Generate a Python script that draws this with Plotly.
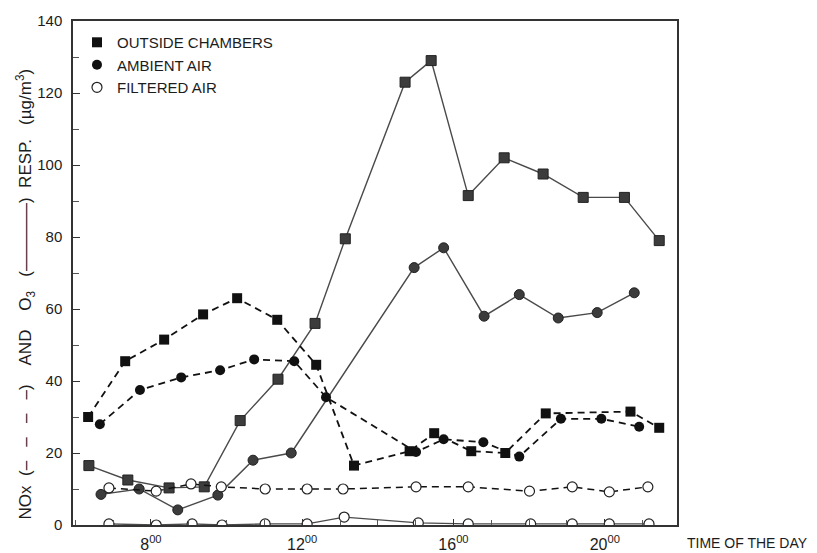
import plotly.graph_objects as go

# ---- data (hour of day, µg/m3) ----
out_nox_h = [6.34, 7.32, 8.35, 9.38, 10.28, 11.34, 12.37, 13.37, 14.84, 15.49, 16.47, 17.37, 18.44, 20.68, 21.44]
out_nox_v = [30, 45.5, 51.5, 58.5, 63, 57, 44.5, 16.5, 20.5, 25.5, 20.5, 20, 31, 31.5, 27]

amb_nox_h = [6.65, 7.71, 8.8, 9.83, 10.73, 11.79, 12.63, 15.01, 15.74, 16.79, 17.74, 18.84, 19.91, 20.91]
amb_nox_v = [28, 37.5, 41, 43, 46, 45.5, 35.5, 20.3, 23.8, 23, 19, 29.5, 29.5, 27.3]

fil_nox_h = [6.89, 8.14, 9.06, 9.86, 11.02, 12.13, 13.08, 15.01, 16.39, 18.01, 19.14, 20.12, 21.14]
fil_nox_v = [10.3, 9.4, 11.4, 10.6, 10, 10, 10, 10.6, 10.6, 9.4, 10.6, 9.2, 10.6]

out_o3_h = [6.36, 7.39, 8.48, 9.41, 10.36, 11.36, 12.34, 13.14, 14.72, 15.41, 16.39, 17.34, 18.37, 19.43, 20.52, 21.44]
out_o3_v = [16.5, 12.5, 10.3, 10.6, 29, 40.5, 56, 79.5, 123, 129, 91.5, 102, 97.5, 91, 91, 79]

amb_o3_h = [6.68, 7.69, 8.71, 9.77, 10.7, 11.71, 14.96, 15.74, 16.81, 17.74, 18.77, 19.8, 20.78]
amb_o3_v = [8.5, 10, 4.2, 8.3, 18, 20, 71.5, 77, 58, 64, 57.5, 59, 64.5]

fil_o3_h = [6.89, 8.14, 9.09, 9.88, 11.02, 12.13, 13.11, 15.07, 16.39, 18.04, 19.14, 20.12, 21.17]
fil_o3_v = [0.3, 0, 0.3, 0, 0.3, 0.3, 2.2, 0.6, 0.3, 0.3, 0.3, 0.3, 0.3]

x_tickvals = [8, 12, 16, 20]
x_ticktext = ["8<sup>00</sup>", "12<sup>00</sup>", "16<sup>00</sup>", "20<sup>00</sup>"]
y_tickvals = [0, 20, 40, 60, 80, 100, 120, 140]
legend_names = ["OUTSIDE CHAMBERS", "AMBIENT AIR", "FILTERED AIR"]

FONT = "Liberation Sans"
INK = "#1c1c1c"
GREY = "#4a4a4a"
NB = "\u00a0"

fig = go.Figure()

sq_dark = dict(symbol="square", size=10, color="#111111", line=dict(width=0))
sq_grey = dict(symbol="square", size=10, color="#3c3c3c", line=dict(width=1, color="#222222"))
ci_dark = dict(symbol="circle", size=10, color="#111111", line=dict(width=0))
ci_grey = dict(symbol="circle", size=10, color="#3c3c3c", line=dict(width=1, color="#222222"))
ci_open = dict(symbol="circle", size=10, color="white", line=dict(width=1.2, color="#222222"))

# O3 (solid)
fig.add_trace(go.Scatter(x=out_o3_h, y=out_o3_v, mode="lines+markers", showlegend=False,
                         line=dict(color=GREY, width=1.4), marker=sq_grey))
fig.add_trace(go.Scatter(x=amb_o3_h, y=amb_o3_v, mode="lines+markers", showlegend=False,
                         line=dict(color=GREY, width=1.4), marker=ci_grey))
# NOx (dashed)
fig.add_trace(go.Scatter(x=out_nox_h, y=out_nox_v, mode="lines+markers", showlegend=False,
                         line=dict(color="#111111", width=1.8, dash="7px,5px"), marker=sq_dark))
fig.add_trace(go.Scatter(x=amb_nox_h, y=amb_nox_v, mode="lines+markers", showlegend=False,
                         line=dict(color="#111111", width=1.8, dash="7px,5px"), marker=ci_dark))
fig.add_trace(go.Scatter(x=fil_nox_h, y=fil_nox_v, mode="lines+markers", showlegend=False,
                         line=dict(color="#111111", width=1.5, dash="7px,5px"), marker=ci_open))
fig.add_trace(go.Scatter(x=fil_o3_h, y=fil_o3_v, mode="lines+markers", showlegend=False,
                         line=dict(color=GREY, width=1.4), marker=ci_open))

# legend entries (marker only)
for name, mk in zip(legend_names, [sq_dark, ci_dark, ci_open]):
    fig.add_trace(go.Scatter(x=[None], y=[None], mode="markers", name=name, marker=mk, showlegend=True))

ytitle = ("NOx" + NB * 2 + "(–" + NB * 3 + "–" + NB * 3 + "–" + NB * 3 + "–)" + NB * 4 + "AND" + NB * 4 +
          "O<sub>3</sub>" + NB * 3 + "(————)" + NB * 2 + "RESP." + NB * 3 + "(µg/m<sup>3</sup>)")

# page body has an 8px margin: figure is sized so it fills the 817x553 window
fig.update_layout(
    width=809, height=545,
    margin=dict(l=65, r=140, t=13, b=28),
    paper_bgcolor="white", plot_bgcolor="white",
    font=dict(family=FONT, size=15, color=INK),
    showlegend=True,
    legend=dict(x=0.0066, y=0.99, xanchor="left", yanchor="top", bgcolor="rgba(0,0,0,0)",
                font=dict(family=FONT, size=15, color=INK), tracegroupgap=0,
                itemwidth=30, borderwidth=0),
    xaxis=dict(range=[5.94, 21.91], tickvals=x_tickvals, ticktext=x_ticktext,
               ticks="inside", ticklen=6, tickcolor="#333", tickwidth=1,
               minor=dict(dtick=1, tick0=0, ticks="inside", ticklen=5, tickcolor="#555"),
               showline=True, linecolor="#333", linewidth=1.5, mirror=True,
               showgrid=False, zeroline=False, ticklabelstandoff=4, automargin=False,
               tickfont=dict(family=FONT, size=16, color=INK)),
    yaxis=dict(range=[0, 140], tickvals=y_tickvals,
               ticks="inside", ticklen=7, tickcolor="#333", tickwidth=1,
               minor=dict(dtick=10, tick0=0, ticks="inside", ticklen=6, tickcolor="#555"),
               showline=True, linecolor="#333", linewidth=1.5, mirror=True,
               showgrid=False, zeroline=False, ticklabelstandoff=6, automargin=False,
               tickfont=dict(family=FONT, size=15, color=INK)),
    annotations=[
        dict(text=ytitle,
             xref="paper", yref="paper", x=-0.079, y=0.458, textangle=-90,
             showarrow=False, font=dict(family=FONT, size=17, color=INK),
             xanchor="center", yanchor="middle"),
        dict(text="TIME OF THE DAY", xref="paper", yref="paper", x=1.013, y=-0.036,
             xanchor="left", yanchor="middle", showarrow=False,
             font=dict(family=FONT, size=14, color=INK)),
    ],
)

fig.write_html("out.html")
